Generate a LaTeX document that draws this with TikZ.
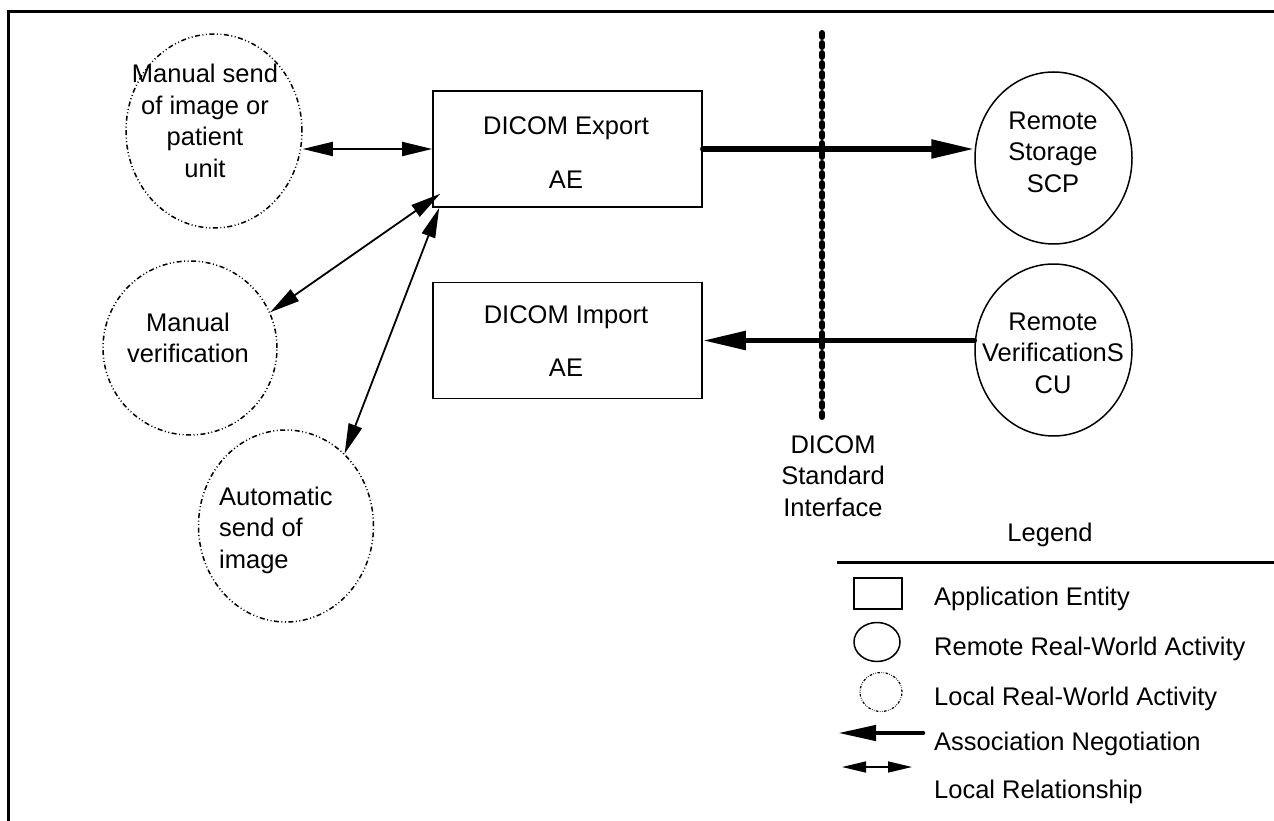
\documentclass[tikz,border=0pt]{standalone}
\usepackage{fontspec}
\setmainfont{Liberation Sans}
\usetikzlibrary{shapes.geometric,arrows.meta,calc}
\begin{document}
\begin{tikzpicture}[x=1pt,y=-1pt,
  txt/.style={font=\fontsize{25.5}{31.5}\selectfont, align=center, inner sep=0pt},
  aebox/.style={draw, line width=1.6pt, minimum width=269pt, minimum height=116pt, inner sep=0pt},
  localact/.style={draw, ellipse, line width=1.5pt, inner sep=0pt,
     dash pattern=on 5pt off 2.5pt on 1pt off 2.5pt on 1pt off 2.5pt},
  remoteact/.style={draw, ellipse, line width=1.5pt, inner sep=0pt, minimum width=157pt, minimum height=172pt},
  assoc/.style={line width=5.5pt, line cap=round, -{Triangle[length=43pt,width=18pt]}},
  localrel/.style={line width=1.8pt, {Triangle[length=30pt,width=14pt]}-{Triangle[length=30pt,width=14pt]}},
  ifline/.style={line width=6pt, line cap=round, dash pattern=on 4pt off 6pt}
]
\useasboundingbox (0,0) rectangle (1274,821);
\clip (0,0) rectangle (1274,821);
% frame
\draw[line width=3.5pt] (8.5,840) -- (8.5,11.5) -- (1300,11.5);

% application entities
\node[aebox] (export) at (567.5,149) {};
\node[txt] (exportt) at (566,128) {DICOM Export};
\node[txt] (exportae) at (566,180) {AE};
\node[aebox] (import) at (567.5,340.5) {};
\node[txt] (importt) at (566,317) {DICOM Import};
\node[txt] (importae) at (566,368) {AE};

% remote activities
\node[remoteact] (storage) at (1053.5,158) {};
\node[txt] (storaget) at (1053,152) {Remote\\Storage\\SCP};
\node[remoteact] (verif) at (1053.5,350) {};
\node[txt] (veriftt) at (1053,353) {Remote\\VerificationS\\CU};

% local activities
\node[localact, minimum width=176pt, minimum height=194pt] (msend) at (214,131) {};
\node[txt] (msendt) at (205,121) {Manual send\\of image or\\patient\\unit};
\node[localact, minimum width=174pt, minimum height=174pt] (mverif) at (190,348) {};
\node[txt] (mveriftt) at (188,338) {Manual\\verification};
\node[localact, minimum width=175pt, minimum height=192pt] (auto) at (286,526) {};
\node[txt, align=left, anchor=west] (autot) at (219,530) {Automatic\\send of\\image};

% interface line
\coordinate (iftop) at (822,33);
\coordinate (ifbot) at (822,418);
\draw[ifline] (iftop) -- (ifbot);
\node[txt] (ift) at (833,476) {DICOM\\Standard\\Interface};

% association arrows
\draw[assoc] (export.east) -- (storage.west |- export.east);
\draw[assoc] (verif.west |- import.east) -- (import.east);

% local relationships
\draw[localrel] (msend.east |- export.west) -- (export.west);
\draw[localrel] (mverif.24) -- ($(export.south west)+(8,-14)$);
\draw[localrel] (auto.51) -- ($(export.south west)+(7,0)$);

% legend
\node[txt] (legendt) at (1050,535) {Legend};
\coordinate (legl) at (837,562);
\coordinate (legr) at (1280,562);
\draw[line width=3pt] (legl) -- (legr);
\node[draw, line width=1.5pt, minimum width=48pt, minimum height=31pt, inner sep=0pt] (legbox) at (878,593.5) {};
\node[draw, ellipse, line width=1.5pt, minimum width=46pt, minimum height=39pt, inner sep=0pt] (legcirc) at (877,642) {};
\node[draw, ellipse, line width=1.2pt, minimum width=42pt, minimum height=39pt, inner sep=0pt,
  dash pattern=on 2.5pt off 1.5pt on 0.6pt off 1.5pt on 0.6pt off 1.5pt] (legdot) at (881,692) {};
\coordinate (asA) at (923,733);
\coordinate (asB) at (838,733);
\draw[line width=4.5pt, line cap=round, -{Triangle[length=38pt,width=15pt]}] (asA) -- (asB);
\coordinate (lrA) at (842,767);
\coordinate (lrB) at (912,767);
\draw[line width=1.5pt, {Triangle[length=24pt,width=11pt]}-{Triangle[length=24pt,width=11pt]}] (lrA) -- (lrB);
\node[txt, anchor=base west] (leg1) at (934,605) {Application Entity};
\node[txt, anchor=base west] (leg2) at (934,655) {Remote Real-World Activity};
\node[txt, anchor=base west] (leg3) at (934,705) {Local Real-World Activity};
\node[txt, anchor=base west] (leg4) at (934,750) {Association Negotiation};
\node[txt, anchor=base west] (leg5) at (934,798) {Local Relationship};
\end{tikzpicture}
\end{document}
